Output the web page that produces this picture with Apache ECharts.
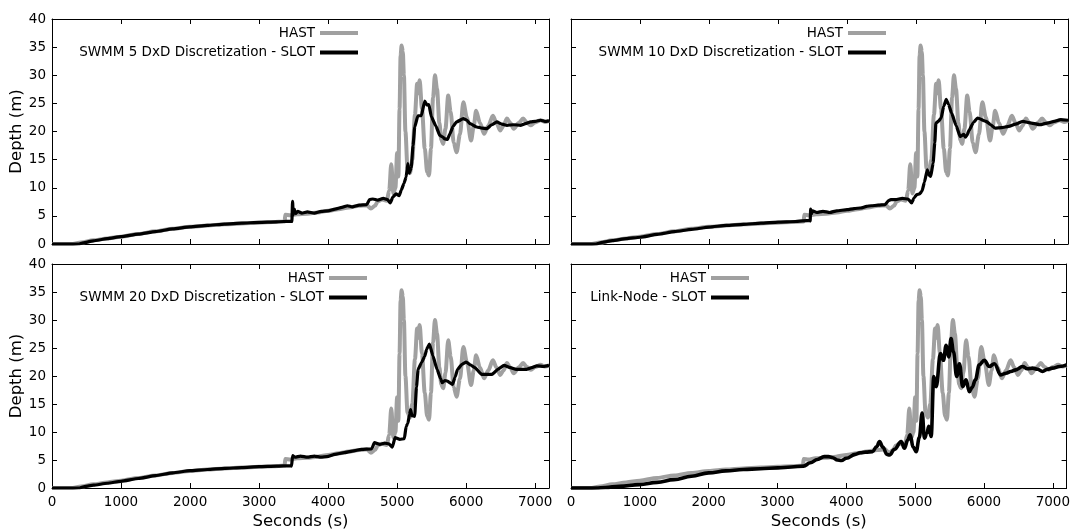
<!DOCTYPE html>
<html><head><meta charset="utf-8">
<script src="https://cdn.jsdelivr.net/npm/echarts@6/dist/echarts.min.js"></script>
<style>html,body{margin:0;padding:0;background:#fff}#c{width:1073px;height:532px}</style>
</head><body><div id="c"></div>
<script>
// ---- tick labels ----
const xTickLabels = ['0','1000','2000','3000','4000','5000','6000','7000'];
const yTickLabels = ['0','5','10','15','20','25','30','35','40'];

// ---- series names ----
const panelNames = [
  'SWMM 5 DxD Discretization - SLOT',
  'SWMM 10 DxD Discretization - SLOT',
  'SWMM 20 DxD Discretization - SLOT',
  'Link-Node - SLOT'
];

// ---- data: [seconds, depth (m)] ----
const hast = [[0,0],[300,0],[420,0.25],[600,0.65],[800,1.0],[1000,1.3],[1250,1.8],[1500,2.25],[1750,2.7],[2000,3.05],[2250,3.3],[2500,3.5],[2750,3.65],[3000,3.8],[3200,3.9],[3370,4.0],[3380,5.2],[3450,5.1],[3550,5.3],[3700,5.4],[3850,5.6],[4000,5.9],[4150,6.2],[4300,6.5],[4450,6.8],[4560,6.9],[4620,6.3],[4680,6.8],[4720,7.6],[4780,7.9],[4850,7.7],[4885,9.5],[4915,14.2],[4945,9.0],[4975,10.0],[5000,16.2],[5018,12],[5035,24],[5050,33.5],[5065,35.3],[5082,34.2],[5098,30],[5120,20],[5150,13.5],[5185,12.6],[5220,15],[5258,23],[5290,28.5],[5305,26.8],[5326,29.1],[5360,24],[5400,17],[5435,12.8],[5462,12.2],[5490,17],[5520,26],[5548,30.0],[5578,27.5],[5612,21.5],[5640,18.5],[5667,17.8],[5700,20.5],[5740,26.4],[5775,23.5],[5820,18],[5861,16.3],[5910,19.5],[5959,25.2],[6010,22.5],[6071,18.4],[6110,21],[6144,23.7],[6200,21.5],[6260,19.6],[6320,21],[6387,22.8],[6440,21.5],[6494,20.2],[6540,21],[6591,22.3],[6640,21.5],[6689,20.5],[6760,21.5],[6825,22.3],[6880,21.6],[6932,21.1],[7000,21.6],[7078,22.0],[7140,21.7],[7200,21.9]];

const swmm5 = [[0,0],[380,0],[450,0.2],[600,0.55],[800,0.95],[1000,1.3],[1250,1.75],[1500,2.2],[1750,2.7],[2000,3.05],[2250,3.3],[2500,3.55],[2750,3.7],[3000,3.85],[3250,3.95],[3465,4.05],[3475,4.0],[3485,7.6],[3495,5.2],[3510,6.2],[3530,5.4],[3560,5.8],[3620,5.5],[3700,5.7],[3800,5.5],[3900,5.8],[4000,5.9],[4100,6.2],[4200,6.5],[4280,6.8],[4350,6.6],[4450,6.9],[4560,7.0],[4600,7.9],[4650,8.0],[4720,7.8],[4800,8.1],[4860,7.9],[4900,7.3],[4940,8.4],[4985,8.9],[5030,8.6],[5060,9.6],[5100,10.8],[5130,11.9],[5155,14.3],[5175,12.6],[5205,13.6],[5230,17.5],[5255,20.8],[5300,22.8],[5350,22.8],[5400,25.4],[5433,24.7],[5460,24.8],[5496,22.6],[5560,21],[5618,19.3],[5660,19.0],[5691,18.7],[5730,18.6],[5764,19.6],[5810,20.9],[5861,21.7],[5959,22.3],[6010,22],[6056,21.4],[6153,20.8],[6230,20.6],[6299,20.5],[6370,21.2],[6445,21.7],[6520,21.3],[6591,21.1],[6690,21.2],[6786,21.1],[6860,21.4],[6932,21.7],[7000,21.8],[7078,22.0],[7140,21.8],[7200,21.9]];

const swmm10 = [[0,0],[362,0],[450,0.3],[600,0.6],[800,0.95],[1000,1.2],[1250,1.7],[1500,2.2],[1750,2.6],[2000,3.0],[2250,3.3],[2500,3.5],[2750,3.7],[3000,3.9],[3250,4.0],[3455,4.2],[3465,4.1],[3472,6.2],[3485,5.4],[3500,5.9],[3560,5.6],[3650,5.8],[3750,5.6],[3850,5.9],[4000,6.1],[4100,6.3],[4200,6.4],[4281,6.7],[4350,6.8],[4450,6.9],[4550,7.0],[4600,7.7],[4633,7.9],[4700,7.9],[4800,8.1],[4884,8.0],[4935,7.3],[4970,8.2],[5010,8.8],[5050,8.9],[5085,9.4],[5120,11],[5161,13.2],[5190,12.2],[5211,12.0],[5246,14.4],[5270,18],[5286,21.5],[5320,21.8],[5362,22.4],[5400,24.5],[5437,25.7],[5470,24.8],[5513,23.3],[5580,21],[5638,19.1],[5690,19.5],[5715,19.0],[5739,19.4],[5765,20.2],[5830,21.6],[5889,22.4],[6015,21.8],[6080,21.2],[6141,20.6],[6240,20.7],[6342,20.9],[6440,21.3],[6543,21.8],[6670,21.5],[6794,21.2],[6900,21.5],[7000,21.8],[7095,22.1],[7200,22.0]];

const swmm20 = [[0,0],[398,0],[470,0.25],[600,0.5],[800,0.85],[1000,1.2],[1250,1.7],[1500,2.2],[1750,2.7],[2000,3.1],[2250,3.3],[2500,3.5],[2750,3.65],[3000,3.8],[3250,3.9],[3461,4.0],[3470,3.9],[3486,5.8],[3520,5.5],[3600,5.7],[3700,5.5],[3800,5.7],[3900,5.5],[3984,5.6],[4100,6.0],[4233,6.3],[4350,6.6],[4482,6.9],[4631,7.0],[4671,8.1],[4750,7.8],[4820,8.0],[4880,7.9],[4930,7.3],[4970,9.0],[5040,8.7],[5105,8.8],[5130,11.0],[5155,11.5],[5179,13.1],[5195,14.0],[5215,12.9],[5254,12.8],[5280,18],[5304,21.2],[5354,22.4],[5400,23.5],[5428,24.8],[5468,25.7],[5518,23.6],[5578,21.2],[5630,19.5],[5652,18.8],[5690,19.2],[5727,19.1],[5802,18.5],[5840,19.8],[5876,21.2],[5940,22.1],[6001,22.5],[6060,22],[6125,21.5],[6225,20.3],[6375,20.3],[6460,21.2],[6549,21.9],[6640,21.5],[6723,21.2],[6873,21.2],[6950,21.5],[7022,21.8],[7120,21.7],[7200,21.9]];

const linkNode = [[0,0],[362,0],[500,0.1],[700,0.3],[995,0.6],[1250,1.0],[1497,1.5],[1750,2.1],[2000,2.7],[2250,3.05],[2503,3.3],[2750,3.45],[3005,3.6],[3200,3.75],[3377,3.9],[3477,4.5],[3580,5.1],[3678,5.6],[3740,5.6],[3804,5.4],[3870,5.0],[3930,4.9],[4000,5.3],[4131,6.0],[4200,6.3],[4281,6.4],[4382,6.5],[4440,7.4],[4483,8.3],[4530,7.3],[4590,6.0],[4628,5.9],[4700,6.9],[4797,8.3],[4845,7.1],[4890,8.5],[4928,9.5],[4970,7.3],[5015,6.5],[5060,9],[5102,13.4],[5135,8.9],[5170,9.8],[5198,11.0],[5232,9.2],[5271,19.9],[5305,18.1],[5368,24.0],[5411,22.8],[5450,25.5],[5488,23.4],[5522,26.7],[5556,24.3],[5604,19.9],[5643,22.2],[5691,18.1],[5739,19.3],[5787,17.2],[5830,18.0],[5874,19.3],[5932,22.0],[6004,22.8],[6077,21.7],[6150,22.2],[6246,20.2],[6319,20.5],[6390,20.8],[6464,21.1],[6560,21.7],[6630,21.3],[6705,21.4],[6780,21.2],[6850,20.8],[6920,21.2],[6995,21.4],[7100,21.7],[7200,22.0]];

const slotSeries = [swmm5, swmm10, swmm20, linkNode];

// ---- layout / style ----
const FONT = 'DejaVu Sans';
const FS = 13.5;
const GRAY = '#a0a0a0';
const grids = [
  {left: 52, top: 19, width: 497, height: 225},
  {left: 571, top: 19, width: 497, height: 225},
  {left: 52, top: 264, width: 497, height: 224},
  {left: 571, top: 264, width: 497, height: 224}
];
const legendPos = [
  {right: 715, top: 26},
  {right: 187, top: 26},
  {right: 706, top: 271},
  {right: 324, top: 271}
];

const xAxes = [], yAxes = [], series = [], legends = [];
const lineAx = {show: true, onZero: false, lineStyle: {color: '#000', width: 1}};
const tickIn = {show: true, inside: true, length: 5, lineStyle: {color: '#000', width: 1}};

grids.forEach((g, i) => {
  const bottomRow = i >= 2, leftCol = i % 2 === 0;
  xAxes.push({
    type: 'value', gridIndex: i, min: 0, max: 7200, interval: 1000, position: 'bottom',
    axisLine: lineAx, axisTick: tickIn, splitLine: {show: false},
    axisLabel: {show: bottomRow, color: '#000', fontSize: FS, fontFamily: FONT, margin: 7,
      formatter: v => xTickLabels.indexOf(String(v)) >= 0 ? String(v) : ''},
    name: bottomRow ? 'Seconds (s)' : '', nameLocation: 'middle', nameGap: 25,
    nameTextStyle: {color: '#000', fontSize: 16.5, fontFamily: FONT}
  });
  xAxes.push({
    type: 'value', gridIndex: i, min: 0, max: 7200, interval: 1000, position: 'top',
    axisLine: lineAx, axisTick: tickIn, splitLine: {show: false}, axisLabel: {show: false}
  });
  yAxes.push({
    type: 'value', gridIndex: i, min: 0, max: 40, interval: 5, position: 'left',
    axisLine: lineAx, axisTick: tickIn, splitLine: {show: false},
    axisLabel: {show: leftCol, color: '#000', fontSize: FS, fontFamily: FONT, margin: 6,
      formatter: v => yTickLabels.indexOf(String(v)) >= 0 ? String(v) : ''},
    name: leftCol ? 'Depth (m)' : '', nameLocation: 'middle', nameGap: 23,
    nameTextStyle: {color: '#000', fontSize: 16.5, fontFamily: FONT}
  });
  yAxes.push({
    type: 'value', gridIndex: i, min: 0, max: 40, interval: 5, position: 'right',
    axisLine: lineAx, axisTick: tickIn, splitLine: {show: false}, axisLabel: {show: false}
  });
  series.push({
    name: 'HAST', type: 'line', xAxisIndex: 2 * i, yAxisIndex: 2 * i,
    data: hast, showSymbol: false, symbol: 'none', smooth: 0.3, smoothMonotone: 'x',
    color: GRAY, lineStyle: {color: GRAY, width: 4}, itemStyle: {color: GRAY},
    emphasis: {disabled: true}, z: 2
  });
  series.push({
    name: panelNames[i], type: 'line', xAxisIndex: 2 * i, yAxisIndex: 2 * i,
    data: slotSeries[i], showSymbol: false, symbol: 'none',
    smooth: i === 3 ? 0.4 : 0.15, smoothMonotone: 'x',
    color: '#000', lineStyle: {color: '#000', width: i === 3 ? 3.6 : 3.2}, itemStyle: {color: '#000'},
    emphasis: {disabled: true}, z: 3
  });
  legends.push(Object.assign({
    orient: 'vertical', align: 'right', padding: 0, itemGap: 5.5,
    icon: 'rect', itemWidth: 38, itemHeight: 4, selectedMode: false,
    textStyle: {color: '#000', fontSize: FS, fontFamily: FONT},
    data: [{name: 'HAST', itemStyle: {color: GRAY}}, {name: panelNames[i], itemStyle: {color: '#000'}}]
  }, legendPos[i]));
});

const chart = echarts.init(document.getElementById('c'), null, {renderer: 'canvas'});
chart.setOption({
  animation: false,
  backgroundColor: '#fff',
  grid: grids,
  xAxis: xAxes,
  yAxis: yAxes,
  legend: legends,
  series: series
});
</script>
</body></html>
